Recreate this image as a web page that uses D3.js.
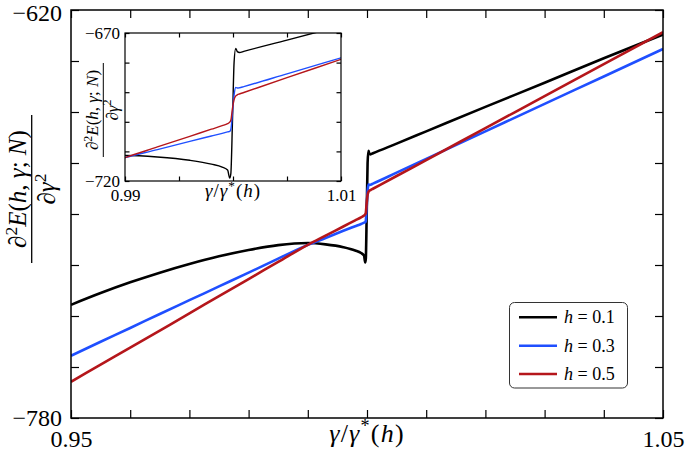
<!DOCTYPE html>
<html><head><meta charset="utf-8">
<script src="https://cdn.jsdelivr.net/npm/d3@7"></script>
<style>
html,body{margin:0;padding:0;background:#fff;}
svg{display:block;}
</style></head>
<body>
<svg id="chart" width="685" height="458" font-family="Liberation Serif"></svg>
<script>
// ---------- data ----------
const gamma = [0.95, 0.955, 0.96, 0.965, 0.97, 0.975, 0.98, 0.985, 0.99, 0.993, 0.996, 0.998, 0.999, 0.9995, 0.9997, 0.9998, 0.99995, 1.0001, 1.00025, 1.0004, 1.0006, 1.001, 1.005, 1.01, 1.02, 1.03, 1.04, 1.05];
const h01 = [-735.6, -731.0, -726.8, -723.0, -719.6, -716.6, -714.1, -712.2, -711.4, -711.9, -713.0, -714.3, -715.3, -716.3, -719.0, -717.5, -700.0, -680.0, -675.2, -676.3, -676.6, -676.2, -672.4, -667.6, -658.0, -648.5, -638.9, -629.6];
const h03 = [-755.6, -750.1, -744.7, -739.2, -733.8, -728.4, -723.0, -717.5, -712.1, -709.4, -706.6, -704.8, -703.9, -703.4, -703.2, -702.6, -697.0, -691.0, -688.4, -688.6, -688.5, -688.1, -683.8, -678.4, -667.6, -656.8, -646.1, -635.3];
const h05 = [-765.8, -759.1, -752.4, -745.7, -739.0, -732.2, -725.5, -718.8, -712.1, -708.5, -704.9, -702.5, -701.3, -700.6, -700.1, -699.5, -695.5, -692.5, -691.3, -690.9, -690.6, -690.1, -685.1, -678.9, -666.3, -653.8, -641.2, -628.7];
const seriesNames = ["h = 0.1", "h = 0.3", "h = 0.5"];
const seriesValues = [h01, h03, h05];
const seriesColors = ["#000000", "#1f4fff", "#b5161b"];

const mainXTicks = [0.95, 0.96, 0.97, 0.98, 0.99, 1.00, 1.01, 1.02, 1.03, 1.04, 1.05];
const mainXLabels = {0.95: "0.95", 1.05: "1.05"};
const mainYTicks = [-780, -760, -740, -720, -700, -680, -660, -640, -620];
const mainYLabels = {"-780": "\u2212780", "-620": "\u2212620"};
const insetXTicks = [0.99, 0.995, 1.0, 1.005, 1.01];
const insetXLabels = {0.99: "0.99", 1.01: "1.01"};
const insetYTicks = [-720, -710, -700, -690, -680, -670];
const insetYLabels = {"-720": "\u2212720", "-670": "\u2212670"};

const SERIF = "Liberation Serif";

// ---------- layout ----------
const svg = d3.select("#chart");
const M = {l: 71, r: 663, t: 10, b: 418};
const x = d3.scaleLinear().domain([0.95, 1.05]).range([M.l, M.r]);
const y = d3.scaleLinear().domain([-780, -620]).range([M.b, M.t]);
const I = {l: 125, r: 341, t: 33, b: 181};
const xi = d3.scaleLinear().domain([0.99, 1.01]).range([I.l, I.r]);
const yi = d3.scaleLinear().domain([-720, -670]).range([I.b, I.t]);

const defs = svg.append("defs");
defs.append("clipPath").attr("id", "clipMain").append("rect")
  .attr("x", M.l).attr("y", M.t).attr("width", M.r - M.l).attr("height", M.b - M.t);
defs.append("clipPath").attr("id", "clipInset").append("rect")
  .attr("x", I.l).attr("y", I.t).attr("width", I.r - I.l).attr("height", I.b - I.t);

function drawAxes(g, xs, ys, xt, xl, yt, yl, tick, fs, xpad, ypad) {
  const fmtX = d => (xl[d] !== undefined ? xl[d] : "");
  const fmtY = d => (yl[String(d)] !== undefined ? yl[String(d)] : "");
  const [y0, y1] = ys.range();
  const [x0, x1] = xs.range();
  g.append("g").attr("transform", `translate(0,${y0})`)
    .call(d3.axisBottom(xs).tickValues(xt).tickFormat(fmtX).tickSizeInner(-tick).tickSizeOuter(0).tickPadding(xpad));
  g.append("g").attr("transform", `translate(0,${y1})`)
    .call(d3.axisTop(xs).tickValues(xt).tickFormat("").tickSizeInner(-tick).tickSizeOuter(0));
  const ay = g.append("g").attr("transform", `translate(${x0},0)`)
    .call(d3.axisLeft(ys).tickValues(yt).tickFormat(fmtY).tickSizeInner(-tick).tickSizeOuter(0).tickPadding(ypad));
  g.append("g").attr("transform", `translate(${x1},0)`)
    .call(d3.axisRight(ys).tickValues(yt).tickFormat("").tickSizeInner(-tick).tickSizeOuter(0));
  g.selectAll(".domain").remove();
  g.selectAll("g").attr("font-family", SERIF);
  g.selectAll(".tick line").attr("stroke", "#000").attr("stroke-width", 1.2);
  g.selectAll(".tick text").attr("font-family", SERIF).attr("font-size", fs).attr("fill", "#000");
  return ay;
}

// ---------- main plot ----------
const main = svg.append("g");
const lineMain = d3.line().x((d, i) => x(gamma[i])).y(d => y(d)).curve(d3.curveMonotoneX);
main.append("g").attr("clip-path", "url(#clipMain)")
  .selectAll("path").data(seriesValues).join("path")
  .attr("d", lineMain).attr("fill", "none")
  .attr("stroke", (d, i) => seriesColors[i]).attr("stroke-width", 2.6)
  .attr("stroke-linejoin", "round");
const mainY = drawAxes(main, x, y, mainXTicks, mainXLabels, mainYTicks, mainYLabels, 8, 24, 12, 9);
// top label sits just inside the window
mainY.selectAll(".tick text").filter(d => d === -620).attr("dy", "0.45em");
main.append("rect").attr("x", M.l).attr("y", M.t).attr("width", M.r - M.l).attr("height", M.b - M.t)
  .attr("fill", "none").attr("stroke", "#000").attr("stroke-width", 1.5);

// math text helper
function mathText(sel, parts, fs) {
  sel.attr("font-family", SERIF);
  parts.forEach(p => {
    const t = sel.append("tspan").text(p.t);
    if (p.i) t.attr("font-style", "italic");
    if (p.sup) t.attr("font-size", fs * 0.7).attr("dy", -fs * 0.38);
    if (p.down) t.attr("dy", fs * 0.38);
  });
}

// x label main
mathText(svg.append("text").attr("x", 367).attr("y", 442).attr("text-anchor", "middle").attr("font-size", 26)
  .attr("letter-spacing", 1.2),
  [{t: "\u03b3", i: 1}, {t: "/"}, {t: "\u03b3", i: 1}, {t: "*", sup: 1}, {t: "(", down: 1}, {t: "h", i: 1}, {t: ")"}], 26);

// y label (fraction)
function yFraction(cx, cy, numBase, barX, denBase, half, fs, sw) {
  const g = svg.append("g").attr("transform", `translate(${cx},${cy}) rotate(-90)`);
  mathText(g.append("text").attr("x", 0).attr("y", numBase - cx).attr("text-anchor", "middle").attr("font-size", fs),
    [{t: "\u2202"}, {t: "2", sup: 1}, {t: "E", i: 1, down: 1}, {t: "("}, {t: "h", i: 1}, {t: ", "}, {t: "\u03b3", i: 1}, {t: "; "}, {t: "N", i: 1}, {t: ")"}], fs);
  g.append("line").attr("x1", -half).attr("x2", half).attr("y1", barX - cx).attr("y2", barX - cx)
    .attr("stroke", "#000").attr("stroke-width", sw);
  mathText(g.append("text").attr("x", 0).attr("y", denBase - cx).attr("text-anchor", "middle").attr("font-size", fs),
    [{t: "\u2202"}, {t: "\u03b3", i: 1}, {t: "2", sup: 1}], fs);
}
yFraction(0, 189, 26, 31.7, 55, 74, 25, 1.3);

// ---------- inset ----------
const inset = svg.append("g");
inset.append("rect").attr("x", I.l).attr("y", I.t).attr("width", I.r - I.l).attr("height", I.b - I.t).attr("fill", "#fff");
const lineInset = d3.line().x((d, i) => xi(gamma[i])).y(d => yi(d)).curve(d3.curveMonotoneX);
inset.append("g").attr("clip-path", "url(#clipInset)")
  .selectAll("path").data(seriesValues).join("path")
  .attr("d", lineInset).attr("fill", "none")
  .attr("stroke", (d, i) => seriesColors[i]).attr("stroke-width", 1.4)
  .attr("stroke-linejoin", "round");
drawAxes(inset, xi, yi, insetXTicks, insetXLabels, insetYTicks, insetYLabels, 4.5, 17, 8, 5);
inset.append("rect").attr("x", I.l).attr("y", I.t).attr("width", I.r - I.l).attr("height", I.b - I.t)
  .attr("fill", "none").attr("stroke", "#000").attr("stroke-width", 1.2);
mathText(svg.append("text").attr("x", 233).attr("y", 197).attr("text-anchor", "middle").attr("font-size", 19)
  .attr("letter-spacing", 1),
  [{t: "\u03b3", i: 1}, {t: "/"}, {t: "\u03b3", i: 1}, {t: "*", sup: 1}, {t: "(", down: 1}, {t: "h", i: 1}, {t: ")"}], 19);
yFraction(0, 110, 98, 103.3, 117.5, 47, 17, 1);

// ---------- legend ----------
const leg = svg.append("g");
leg.append("rect").attr("x", 509.5).attr("y", 302.5).attr("width", 118).attr("height", 85.5)
  .attr("rx", 5).attr("fill", "#fff").attr("stroke", "#333").attr("stroke-width", 1);
const legY = [317.3, 345.7, 374];
seriesNames.forEach((n, i) => {
  leg.append("line").attr("x1", 519).attr("x2", 557).attr("y1", legY[i]).attr("y2", legY[i])
    .attr("stroke", seriesColors[i]).attr("stroke-width", 2.6);
  const t = leg.append("text").attr("x", 564).attr("y", legY[i] + 6).attr("font-size", 18).attr("font-family", SERIF);
  t.append("tspan").attr("font-style", "italic").text("h");
  t.append("tspan").text(n.slice(1).replace("=", "= "));
});
</script>
</body></html>
